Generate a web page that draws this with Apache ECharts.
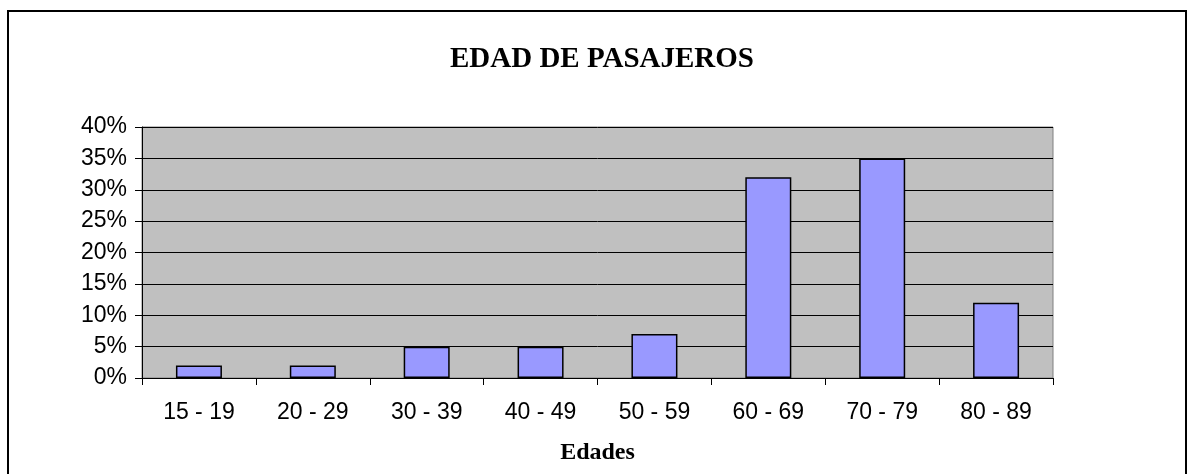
<!DOCTYPE html>
<html>
<head>
<meta charset="utf-8">
<script src="https://cdn.jsdelivr.net/npm/echarts@6/dist/echarts.min.js"></script>
<style>
html,body{margin:0;padding:0;background:#fff;}
#main{width:1187px;height:474px;}
</style>
</head>
<body>
<div id="main"></div>
<script>
const titleText = 'EDAD DE PASAJEROS';
const xAxisName = 'Edades';
const categories = ['15 - 19', '20 - 29', '30 - 39', '40 - 49', '50 - 59', '60 - 69', '70 - 79', '80 - 89'];
const percentValues = [2, 2, 5, 5, 7, 32, 35, 12];
const yMin = 0, yMax = 40, yStep = 5;

const chart = echarts.init(document.getElementById('main'), null, {renderer: 'canvas'});
chart.setOption({
  animation: false,
  backgroundColor: '#ffffff',
  graphic: [{
    type: 'rect',
    z: -10,
    shape: {x: 8, y: 11, width: 1178, height: 480},
    style: {fill: 'none', stroke: '#000', lineWidth: 2}
  }],
  title: {
    text: titleText,
    left: 597, top: 40,
    textAlign: 'center',
    textStyle: {fontFamily: '"Liberation Serif", "Times New Roman", serif', fontWeight: 'bold', fontSize: 29, color: '#000'}
  },
  grid: {left: 142, right: 134, top: 127, bottom: 96, outerBoundsMode: 'none', containLabel: false, show: true, backgroundColor: '#C0C0C0', borderColor: '#808080', borderWidth: 1},
  xAxis: {
    type: 'category',
    data: categories,
    name: xAxisName,
    nameLocation: 'middle',
    nameGap: 63,
    nameTextStyle: {fontFamily: '"Liberation Serif", "Times New Roman", serif', fontWeight: 'bold', fontSize: 24, color: '#000'},
    axisLine: {lineStyle: {color: '#000', width: 1}},
    axisTick: {show: true, alignWithLabel: false, length: 7, lineStyle: {color: '#000'}},
    axisLabel: {margin: 23, fontFamily: '"Liberation Sans", Arial, sans-serif', fontSize: 23, color: '#000'}
  },
  yAxis: {
    type: 'value',
    min: yMin, max: yMax, interval: yStep,
    axisLine: {show: true, lineStyle: {color: '#000', width: 1}},
    axisTick: {show: true, length: 7, lineStyle: {color: '#000'}},
    axisLabel: {formatter: '{value}%', margin: 15, fontFamily: '"Liberation Sans", Arial, sans-serif', fontSize: 23, color: '#000'},
    splitLine: {show: true, lineStyle: {color: '#000', width: 1}}
  },
  series: [{
    type: 'bar',
    data: percentValues,
    barWidth: 46,
    itemStyle: {color: '#9999FF', borderColor: '#000', borderWidth: 1.5}
  }]
});
</script>
</body>
</html>
